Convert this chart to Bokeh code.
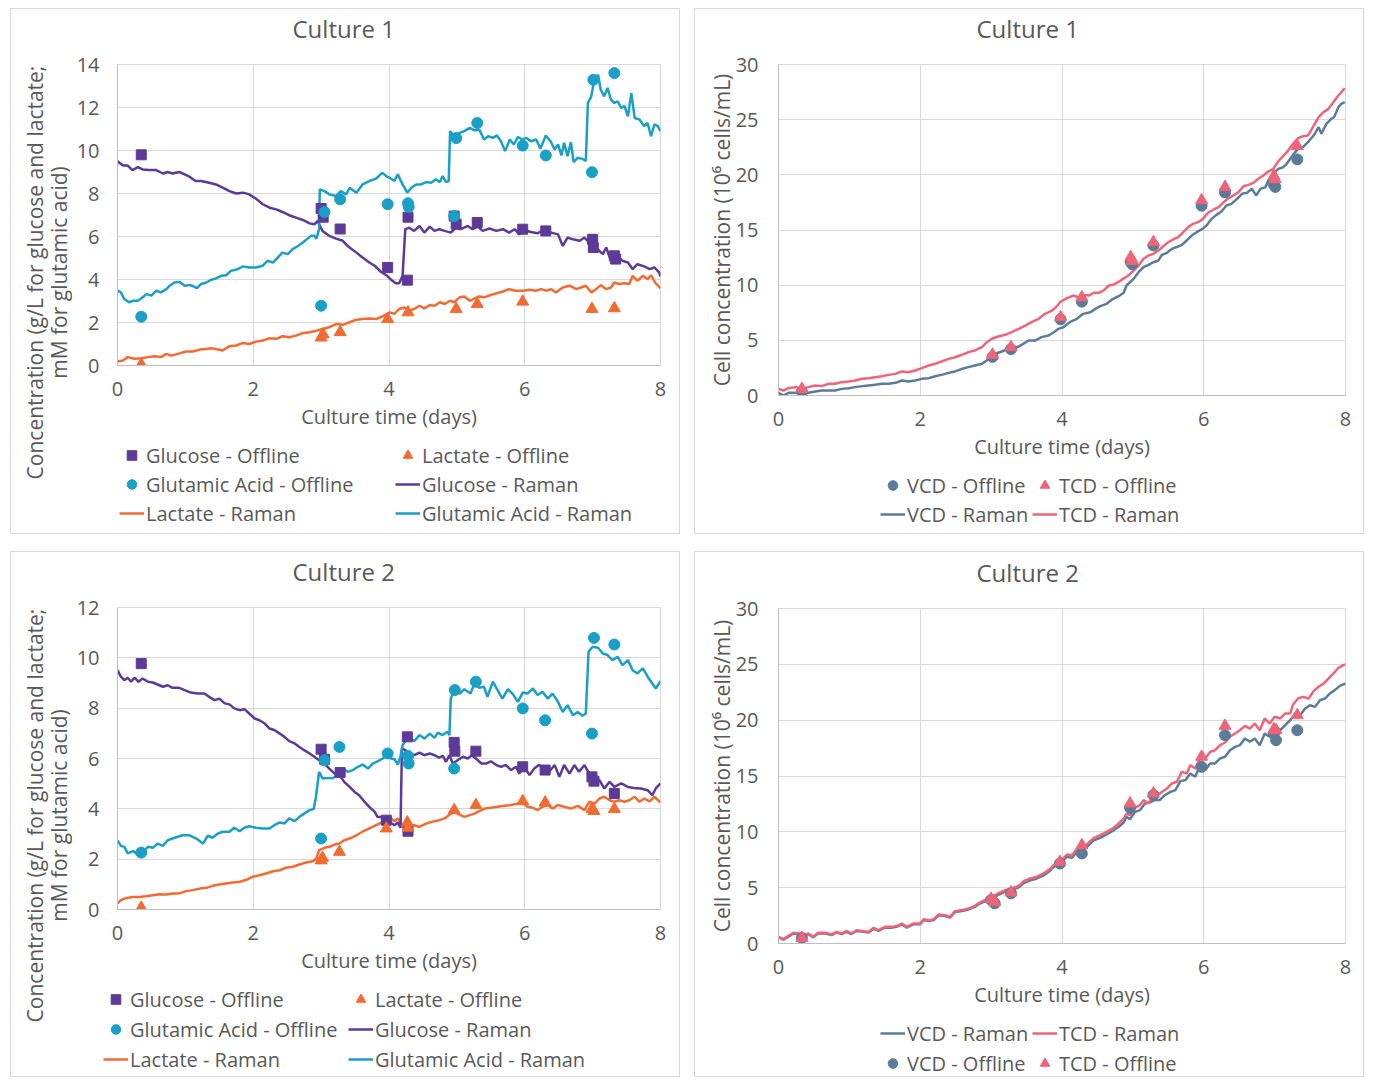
from bokeh.plotting import figure
from bokeh.models import Legend, LegendItem, FixedTicker, Range1d, Title, Plot
from bokeh.layouts import column, row
from bokeh.embed import file_html
from bokeh.resources import INLINE

FONT = "Open Sans"
TXT = "#595959"
GLC = "#5b3a98"
GLU = "#1a9fc6"
LAC = "#f26b33"
VCDC = "#5b7c99"
TCDC = "#ef6479"
BORDER = "1px solid #d9d9d9"

# ---------------- Culture 1 metabolites ----------------
c1_glc_raman = [(0, 9.5), (0.08, 9.3), (0.15, 9.3), (0.22, 9.09), (0.3, 9.23), (0.37, 9.12), (0.47, 9.09), (0.57, 9.09),
    (0.67, 8.93), (0.74, 9.0), (0.81, 8.93), (0.91, 9.0), (0.99, 8.89), (1.06, 8.78), (1.15, 8.58), (1.23, 8.58),
    (1.35, 8.5), (1.45, 8.42), (1.55, 8.27), (1.65, 8.11), (1.75, 8.0), (1.85, 8.04), (1.94, 7.96), (2.04, 7.76),
    (2.14, 7.5), (2.24, 7.34), (2.34, 7.26), (2.43, 7.14), (2.53, 6.99), (2.63, 6.88), (2.73, 6.77), (2.83, 6.61),
    (2.9, 6.57), (2.95, 6.72), (2.97, 6.57), (3.02, 6.26), (3.12, 6.03), (3.22, 5.9), (3.32, 5.8), (3.39, 5.56),
    (3.52, 5.25), (3.61, 5.02), (3.71, 4.79), (3.79, 4.64), (3.88, 4.36), (3.96, 4.2), (4.03, 3.99), (4.1, 3.83),
    (4.15, 3.83), (4.2, 4.17), (4.24, 6.34), (4.3, 6.41), (4.37, 6.26), (4.45, 6.49), (4.52, 6.18), (4.6, 6.46),
    (4.67, 6.26), (4.74, 6.34), (4.82, 6.26), (4.91, 6.18), (4.99, 6.41), (5.06, 6.34), (5.16, 6.49), (5.23, 6.34),
    (5.31, 6.46), (5.38, 6.26), (5.48, 6.37), (5.58, 6.26), (5.68, 6.34), (5.77, 6.18), (5.85, 6.34), (5.92, 6.1),
    (5.99, 6.31), (6.09, 6.21), (6.19, 6.15), (6.29, 6.34), (6.39, 6.18), (6.49, 6.1), (6.56, 5.56), (6.63, 5.95),
    (6.71, 5.87), (6.81, 5.8), (6.88, 5.95), (6.95, 5.72), (7.03, 5.56), (7.1, 5.33), (7.15, 5.18), (7.2, 5.49),
    (7.27, 4.87), (7.37, 5.1), (7.44, 4.87), (7.52, 4.79), (7.59, 4.48), (7.66, 4.71), (7.76, 4.61), (7.84, 4.48),
    (7.91, 4.56), (7.98, 4.33), (8.0, 4.14)]

c1_glu_raman = [(0, 3.48), (0.05, 3.4), (0.1, 3.09), (0.17, 2.94), (0.23, 3.01), (0.3, 3.01), (0.37, 3.17), (0.43, 3.32),
    (0.5, 3.25), (0.57, 3.48), (0.64, 3.4), (0.72, 3.55), (0.77, 3.71), (0.84, 3.86), (0.91, 3.89), (0.99, 3.71),
    (1.08, 3.74), (1.17, 3.6), (1.23, 3.79), (1.31, 3.86), (1.38, 3.99), (1.45, 4.05), (1.53, 4.17), (1.6, 4.2),
    (1.67, 4.4), (1.77, 4.48), (1.85, 4.61), (1.94, 4.56), (2.04, 4.56), (2.14, 4.64), (2.21, 4.87), (2.29, 4.79),
    (2.36, 5.02), (2.43, 5.25), (2.51, 5.18), (2.58, 5.41), (2.66, 5.56), (2.73, 5.72), (2.8, 5.9), (2.85, 6.03),
    (2.9, 6.03), (2.93, 5.9), (2.97, 6.34), (2.98, 8.19), (3.05, 8.11), (3.12, 7.96), (3.22, 7.88), (3.29, 8.11),
    (3.37, 7.96), (3.42, 8.27), (3.52, 8.04), (3.61, 8.42), (3.71, 8.58), (3.81, 8.69), (3.9, 8.96), (3.96, 8.81),
    (4.01, 8.73), (4.08, 8.58), (4.13, 8.89), (4.2, 8.42), (4.27, 8.04), (4.33, 8.27), (4.4, 8.42), (4.47, 8.42),
    (4.55, 8.53), (4.62, 8.5), (4.69, 8.66), (4.75, 8.53), (4.79, 8.81), (4.84, 8.53), (4.88, 8.58), (4.9, 10.9),
    (4.96, 10.66), (5.04, 10.82), (5.11, 10.9), (5.19, 11.05), (5.26, 10.94), (5.33, 10.97), (5.4, 10.51), (5.46, 10.66),
    (5.53, 10.59), (5.59, 10.7), (5.65, 10.43), (5.71, 9.97), (5.78, 10.51), (5.84, 10.28), (5.9, 10.63), (5.96, 10.51),
    (6.02, 10.59), (6.09, 10.43), (6.17, 10.51), (6.23, 10.08), (6.31, 10.7), (6.38, 10.43), (6.44, 10.05), (6.49, 10.28),
    (6.54, 9.77), (6.58, 10.36), (6.63, 9.74), (6.68, 10.39), (6.72, 9.46), (6.78, 9.66), (6.85, 9.61), (6.9, 9.51),
    (6.93, 12.21), (6.98, 12.52), (7.03, 13.37), (7.08, 13.52), (7.12, 12.83), (7.17, 12.52), (7.22, 12.91), (7.27, 12.36),
    (7.32, 12.21), (7.37, 12.29), (7.42, 11.98), (7.47, 12.06), (7.52, 11.59), (7.57, 12.67), (7.62, 11.51), (7.69, 11.44),
    (7.76, 11.13), (7.81, 11.28), (7.86, 10.66), (7.91, 11.21), (7.96, 11.13), (8.0, 10.9)]

c1_lac_raman = [(0, 0.19), (0.08, 0.23), (0.15, 0.39), (0.25, 0.31), (0.35, 0.34), (0.45, 0.39), (0.54, 0.43), (0.64, 0.39),
    (0.72, 0.54), (0.79, 0.46), (0.89, 0.54), (1.01, 0.65), (1.11, 0.65), (1.21, 0.74), (1.31, 0.77), (1.38, 0.8),
    (1.45, 0.77), (1.55, 0.7), (1.65, 0.9), (1.75, 0.93), (1.85, 1.05), (1.94, 1.0), (2.04, 1.11), (2.14, 1.16),
    (2.24, 1.27), (2.34, 1.24), (2.43, 1.36), (2.53, 1.31), (2.63, 1.39), (2.73, 1.51), (2.83, 1.55), (2.93, 1.62),
    (3.02, 1.7), (3.12, 1.78), (3.22, 1.93), (3.32, 1.89), (3.42, 2.01), (3.52, 2.13), (3.61, 2.16), (3.71, 2.19),
    (3.81, 2.16), (3.91, 2.29), (4.01, 2.47), (4.08, 2.4), (4.15, 2.63), (4.23, 2.7), (4.3, 2.55), (4.37, 2.63),
    (4.45, 2.78), (4.52, 2.66), (4.6, 2.81), (4.67, 2.78), (4.75, 2.94), (4.82, 2.86), (4.9, 3.01), (4.96, 2.94),
    (5.04, 3.17), (5.11, 3.21), (5.19, 3.01), (5.26, 3.12), (5.33, 3.21), (5.4, 3.17), (5.5, 3.28), (5.6, 3.37),
    (5.67, 3.43), (5.77, 3.55), (5.87, 3.48), (5.97, 3.48), (6.07, 3.52), (6.17, 3.48), (6.24, 3.55), (6.31, 3.48),
    (6.39, 3.55), (6.46, 3.4), (6.56, 3.63), (6.66, 3.71), (6.76, 3.55), (6.83, 3.63), (6.9, 3.71), (6.98, 3.4),
    (7.05, 3.55), (7.12, 3.74), (7.2, 3.55), (7.27, 3.63), (7.32, 3.86), (7.39, 3.79), (7.47, 3.83), (7.54, 3.79),
    (7.59, 4.17), (7.66, 3.94), (7.74, 4.17), (7.81, 4.02), (7.86, 4.2), (7.92, 3.86), (8.0, 3.59)]

c1_glc_off_t = [0.35, 3.0, 3.03, 3.28, 3.98, 4.27, 4.28, 4.96, 4.99, 5.30, 5.97, 6.31, 7.0, 7.01, 7.32, 7.34]
c1_glc_off = [9.8, 7.3, 6.9, 6.35, 4.56, 3.97, 6.9, 6.95, 6.57, 6.65, 6.34, 6.26, 5.87, 5.49, 5.1, 4.95]
c1_glu_off_t = [0.35, 3.0, 3.05, 3.28, 3.98, 4.28, 4.29, 4.96, 4.99, 5.30, 5.97, 6.31, 6.99, 7.01, 7.32]
c1_glu_off = [2.27, 2.78, 7.14, 7.73, 7.5, 7.55, 7.38, 6.95, 10.58, 11.28, 10.23, 9.77, 8.99, 13.29, 13.6]
c1_lac_off_t = [0.35, 3.0, 3.03, 3.28, 3.98, 4.28, 4.99, 5.30, 5.97, 6.99, 7.32]
c1_lac_off = [0.05, 1.3, 1.45, 1.55, 2.16, 2.47, 2.63, 2.86, 2.97, 2.63, 2.66]

# ---------------- Culture 2 metabolites ----------------
c2_glc_raman = [(0, 9.51), (0.05, 9.25), (0.1, 9.11), (0.15, 9.21), (0.2, 9.05), (0.25, 9.21), (0.31, 9.05), (0.37, 9.18),
    (0.45, 9.05), (0.52, 9.02), (0.59, 8.94), (0.67, 8.85), (0.74, 8.91), (0.81, 8.81), (0.91, 8.81), (0.99, 8.72),
    (1.08, 8.62), (1.18, 8.58), (1.28, 8.58), (1.35, 8.45), (1.43, 8.32), (1.5, 8.38), (1.58, 8.19), (1.65, 8.15),
    (1.72, 7.99), (1.8, 7.92), (1.87, 7.96), (1.94, 7.79), (2.02, 7.59), (2.09, 7.52), (2.17, 7.39), (2.24, 7.19),
    (2.31, 7.13), (2.39, 6.99), (2.46, 6.86), (2.53, 6.69), (2.61, 6.6), (2.68, 6.46), (2.75, 6.33), (2.83, 6.2),
    (2.9, 6.07), (2.97, 5.93), (3.05, 5.8), (3.12, 5.6), (3.2, 5.4), (3.27, 5.34), (3.34, 5.07), (3.42, 4.87),
    (3.49, 4.68), (3.56, 4.54), (3.64, 4.28), (3.71, 4.08), (3.79, 3.88), (3.83, 3.68), (3.91, 3.68), (3.98, 3.5),
    (4.01, 3.48), (4.08, 3.35), (4.13, 3.46), (4.17, 3.25), (4.19, 6.4), (4.24, 6.33), (4.3, 6.2), (4.37, 6.13),
    (4.45, 6.23), (4.52, 6.13), (4.6, 6.2), (4.67, 6.13), (4.74, 6.03), (4.79, 6.11), (4.84, 5.87), (4.89, 6.13),
    (4.94, 5.8), (5.01, 5.93), (5.09, 6.07), (5.16, 6.0), (5.22, 6.13), (5.28, 6.0), (5.36, 5.8), (5.43, 5.8),
    (5.5, 5.89), (5.58, 5.74), (5.65, 5.67), (5.72, 5.74), (5.8, 5.54), (5.87, 5.67), (5.92, 5.4), (5.99, 5.67),
    (6.07, 5.34), (6.14, 5.6), (6.21, 5.74), (6.29, 5.6), (6.36, 5.47), (6.44, 5.74), (6.51, 5.27), (6.58, 5.74),
    (6.66, 5.4), (6.73, 5.74), (6.8, 5.47), (6.88, 5.74), (6.95, 5.4), (7.03, 5.21), (7.1, 5.14), (7.17, 4.81),
    (7.25, 5.07), (7.32, 4.87), (7.42, 5.01), (7.52, 4.87), (7.61, 4.83), (7.71, 4.81), (7.81, 4.74), (7.88, 4.54),
    (7.93, 4.81), (8.0, 5.01)]

c2_glu_raman = [(0, 2.75), (0.05, 2.53), (0.1, 2.49), (0.15, 2.23), (0.23, 2.32), (0.3, 2.19), (0.37, 2.29), (0.45, 2.49),
    (0.52, 2.45), (0.59, 2.62), (0.67, 2.53), (0.74, 2.75), (0.81, 2.82), (0.89, 2.89), (0.96, 2.95), (1.06, 2.95),
    (1.16, 2.82), (1.26, 2.62), (1.33, 2.93), (1.4, 2.85), (1.48, 3.02), (1.55, 3.09), (1.65, 3.09), (1.72, 3.25),
    (1.8, 3.11), (1.87, 3.25), (1.94, 3.31), (2.04, 3.25), (2.14, 3.22), (2.24, 3.22), (2.31, 3.35), (2.39, 3.46),
    (2.46, 3.42), (2.53, 3.62), (2.61, 3.51), (2.68, 3.68), (2.75, 3.81), (2.83, 3.95), (2.89, 3.99), (2.92, 4.41),
    (2.97, 5.47), (3.02, 5.21), (3.1, 5.23), (3.17, 5.21), (3.24, 5.36), (3.32, 5.6), (3.39, 5.47), (3.47, 5.54),
    (3.54, 5.67), (3.61, 5.76), (3.69, 5.6), (3.76, 5.8), (3.83, 5.89), (3.91, 6.0), (3.98, 6.2), (4.03, 6.0),
    (4.08, 5.97), (4.13, 5.76), (4.17, 6.07), (4.2, 6.53), (4.25, 6.73), (4.3, 6.82), (4.37, 6.69), (4.45, 6.93),
    (4.52, 6.79), (4.6, 6.99), (4.67, 6.82), (4.72, 7.03), (4.79, 6.93), (4.86, 7.06), (4.89, 6.93), (4.91, 8.38),
    (4.96, 8.72), (5.04, 8.58), (5.11, 8.75), (5.2, 8.58), (5.26, 8.98), (5.33, 8.81), (5.4, 8.85), (5.45, 8.45),
    (5.53, 9.05), (5.6, 8.72), (5.67, 8.38), (5.75, 8.75), (5.82, 8.58), (5.9, 8.25), (5.97, 8.62), (6.04, 8.58),
    (6.12, 8.78), (6.19, 8.52), (6.26, 8.65), (6.34, 8.38), (6.41, 8.58), (6.49, 8.25), (6.56, 7.85), (6.63, 8.12),
    (6.71, 7.72), (6.78, 7.85), (6.85, 7.7), (6.9, 7.79), (6.94, 10.24), (7.0, 10.44), (7.08, 10.4), (7.15, 10.17),
    (7.22, 10.11), (7.29, 9.91), (7.37, 10.04), (7.44, 9.71), (7.52, 9.91), (7.59, 9.51), (7.66, 9.38), (7.74, 9.58),
    (7.81, 9.25), (7.88, 8.98), (7.93, 8.78), (8.0, 9.07)]

c2_lac_raman = [(0, 0.24), (0.05, 0.37), (0.13, 0.46), (0.23, 0.5), (0.32, 0.5), (0.42, 0.53), (0.52, 0.57), (0.62, 0.61),
    (0.72, 0.6), (0.81, 0.64), (0.91, 0.64), (1.01, 0.73), (1.11, 0.77), (1.21, 0.83), (1.31, 0.86), (1.4, 0.94),
    (1.5, 0.99), (1.6, 1.03), (1.7, 1.07), (1.8, 1.1), (1.89, 1.17), (1.99, 1.3), (2.09, 1.36), (2.19, 1.43),
    (2.29, 1.52), (2.39, 1.56), (2.48, 1.66), (2.58, 1.7), (2.68, 1.79), (2.78, 1.87), (2.88, 1.92), (2.93, 2.03),
    (2.97, 2.36), (3.05, 2.45), (3.12, 2.49), (3.2, 2.58), (3.27, 2.62), (3.34, 2.75), (3.42, 2.82), (3.52, 2.95),
    (3.61, 3.09), (3.71, 3.22), (3.81, 3.35), (3.91, 3.48), (3.98, 3.65), (4.03, 3.62), (4.08, 3.51), (4.13, 3.62),
    (4.18, 3.42), (4.23, 3.22), (4.3, 3.25), (4.37, 3.35), (4.45, 3.28), (4.52, 3.38), (4.6, 3.46), (4.67, 3.51),
    (4.74, 3.55), (4.82, 3.62), (4.89, 3.77), (4.96, 3.88), (5.04, 3.77), (5.11, 3.68), (5.19, 3.75), (5.26, 3.81),
    (5.33, 3.91), (5.41, 4.01), (5.5, 4.04), (5.6, 4.08), (5.7, 4.12), (5.8, 4.15), (5.9, 4.21), (5.97, 4.28),
    (6.04, 4.08), (6.12, 4.04), (6.19, 3.95), (6.26, 4.08), (6.34, 4.15), (6.41, 4.01), (6.49, 4.15), (6.58, 4.08),
    (6.68, 4.01), (6.78, 4.12), (6.88, 3.95), (6.95, 4.28), (7.03, 4.21), (7.1, 4.41), (7.17, 4.48), (7.25, 4.34),
    (7.32, 4.28), (7.39, 4.34), (7.47, 4.28), (7.54, 4.34), (7.62, 4.48), (7.69, 4.28), (7.76, 4.41), (7.84, 4.3),
    (7.91, 4.48), (8.0, 4.25)]

c2_glc_off_t = [0.35, 3.0, 3.05, 3.28, 3.96, 4.27, 4.28, 4.96, 4.97, 5.28, 5.97, 6.3, 6.99, 7.02, 7.32]
c2_glc_off = [9.77, 6.37, 5.97, 5.44, 3.55, 6.86, 3.11, 6.64, 6.29, 6.29, 5.67, 5.54, 5.27, 5.1, 4.61]
c2_glu_off_t = [0.35, 3.0, 3.05, 3.27, 3.98, 4.28, 4.29, 4.96, 4.97, 5.28, 5.97, 6.3, 6.99, 7.02, 7.32]
c2_glu_off = [2.26, 2.82, 5.93, 6.46, 6.2, 6.1, 5.8, 5.6, 8.72, 9.05, 7.99, 7.52, 6.99, 10.79, 10.53]
c2_lac_off_t = [0.35, 3.0, 3.02, 3.27, 3.96, 4.27, 4.28, 4.96, 5.28, 5.97, 6.3, 6.99, 7.02, 7.32]
c2_lac_off = [0.07, 1.95, 2.05, 2.29, 3.22, 3.46, 3.25, 3.95, 4.15, 4.3, 4.25, 3.99, 3.91, 3.99]

# ---------------- Culture 1 cells ----------------
c1_tcd_raman = [(0, 0.6), (0.07, 0.45), (0.14, 0.66), (0.24, 0.76), (0.33, 0.66), (0.42, 0.76), (0.52, 0.91), (0.61, 0.85),
    (0.71, 1.06), (0.8, 1.06), (0.89, 1.21), (0.99, 1.27), (1.08, 1.36), (1.18, 1.51), (1.27, 1.57), (1.36, 1.66),
    (1.46, 1.75), (1.55, 1.87), (1.65, 1.96), (1.74, 2.18), (1.83, 2.11), (1.93, 2.27), (2.02, 2.48), (2.12, 2.72),
    (2.21, 2.87), (2.3, 3.08), (2.4, 3.32), (2.49, 3.47), (2.59, 3.69), (2.68, 3.93), (2.77, 4.08), (2.87, 4.38),
    (2.94, 4.83), (3.01, 5.14), (3.1, 5.35), (3.2, 5.5), (3.29, 5.74), (3.39, 6.04), (3.48, 6.34), (3.57, 6.65),
    (3.67, 6.95), (3.76, 7.4), (3.86, 7.7), (3.93, 8.1), (3.97, 8.46), (4.07, 8.82), (4.16, 9.06), (4.23, 8.91),
    (4.3, 9.12), (4.38, 9.06), (4.45, 9.31), (4.52, 9.31), (4.59, 9.52), (4.66, 9.97), (4.72, 10.03), (4.79, 10.27),
    (4.86, 10.57), (4.94, 10.88), (5.01, 11.33), (5.08, 11.78), (5.15, 12.39), (5.22, 12.69), (5.29, 12.84), (5.36, 13.14),
    (5.43, 13.53), (5.5, 13.9), (5.57, 14.14), (5.64, 14.35), (5.71, 14.8), (5.78, 15.26), (5.85, 15.56), (5.92, 15.71),
    (5.99, 16.01), (6.06, 16.56), (6.14, 16.86), (6.21, 17.07), (6.28, 17.52), (6.35, 17.89), (6.42, 18.13), (6.49, 18.43),
    (6.56, 18.97), (6.63, 19.09), (6.7, 19.27), (6.77, 19.64), (6.84, 19.94), (6.91, 20.3), (6.98, 20.54), (7.05, 21.21),
    (7.12, 21.69), (7.19, 22.2), (7.26, 22.81), (7.33, 23.32), (7.4, 23.5), (7.47, 23.56), (7.54, 24.32), (7.62, 25.23),
    (7.69, 25.68), (7.76, 25.98), (7.83, 26.59), (7.9, 27.19), (7.94, 27.49), (7.99, 27.85)]

c1_vcd_raman = [(0, 0.24), (0.07, 0.0), (0.14, 0.24), (0.24, 0.24), (0.33, 0.3), (0.42, 0.24), (0.52, 0.36), (0.61, 0.45),
    (0.71, 0.45), (0.8, 0.45), (0.89, 0.6), (0.99, 0.66), (1.08, 0.76), (1.18, 0.85), (1.27, 0.91), (1.36, 0.97),
    (1.46, 1.06), (1.55, 1.06), (1.65, 1.15), (1.74, 1.36), (1.83, 1.27), (1.93, 1.36), (2.02, 1.51), (2.12, 1.57),
    (2.21, 1.75), (2.3, 1.87), (2.4, 2.05), (2.49, 2.18), (2.59, 2.42), (2.68, 2.57), (2.77, 2.72), (2.87, 2.87),
    (2.94, 3.17), (2.99, 3.63), (3.06, 3.78), (3.15, 3.99), (3.24, 4.23), (3.34, 4.29), (3.43, 4.59), (3.53, 4.98),
    (3.62, 4.98), (3.71, 5.29), (3.81, 5.44), (3.9, 5.8), (3.95, 6.04), (4.02, 6.19), (4.11, 6.65), (4.21, 6.95),
    (4.3, 7.4), (4.4, 7.55), (4.47, 7.85), (4.54, 8.1), (4.63, 8.31), (4.72, 8.76), (4.8, 9.0), (4.87, 9.31),
    (4.91, 9.97), (5.01, 10.57), (5.08, 11.18), (5.15, 11.63), (5.22, 11.84), (5.29, 12.08), (5.36, 12.24), (5.41, 12.75),
    (5.48, 12.93), (5.55, 13.29), (5.61, 13.44), (5.68, 13.6), (5.76, 14.05), (5.83, 14.5), (5.9, 14.8), (5.97, 15.05),
    (6.04, 15.41), (6.11, 16.01), (6.18, 16.37), (6.25, 16.68), (6.32, 17.22), (6.39, 17.37), (6.47, 17.82), (6.54, 18.28),
    (6.61, 18.37), (6.68, 18.73), (6.74, 18.13), (6.8, 18.73), (6.87, 18.88), (6.91, 19.49), (6.98, 20.09), (7.05, 20.54),
    (7.12, 20.69), (7.17, 21.0), (7.22, 21.45), (7.26, 21.81), (7.33, 22.36), (7.4, 22.51), (7.47, 22.96), (7.55, 23.56),
    (7.62, 24.32), (7.66, 23.72), (7.73, 24.62), (7.8, 25.08), (7.84, 25.23), (7.9, 26.13), (7.94, 26.43), (7.99, 26.59)]

c1_cell_off_t = [0.33, 3.02, 3.28, 3.98, 4.28, 4.97, 4.99, 5.29, 5.97, 6.3, 6.99, 7.01, 7.32]
c1_tcd_off = [0.6, 3.7, 4.38, 7.1, 8.9, 12.54, 12.2, 13.9, 17.7, 18.9, 19.9, 19.6, 22.6]
c1_vcd_off = [0.35, 3.5, 4.2, 6.9, 8.5, 12.1, 11.9, 13.6, 17.2, 18.4, 19.1, 18.9, 21.4]

# ---------------- Culture 2 cells ----------------
c2_tcd_raman = [(0, 0.6), (0.07, 0.39), (0.14, 0.69), (0.21, 0.96), (0.28, 0.9), (0.35, 0.69), (0.42, 0.9), (0.49, 0.6),
    (0.56, 0.96), (0.66, 0.96), (0.75, 0.81), (0.82, 1.04), (0.89, 0.9), (0.96, 1.1), (1.03, 0.9), (1.1, 1.19),
    (1.2, 1.1), (1.27, 1.04), (1.34, 1.4), (1.41, 1.19), (1.5, 1.49), (1.6, 1.49), (1.67, 1.58), (1.74, 1.79),
    (1.81, 1.49), (1.9, 1.79), (2.0, 1.79), (2.05, 2.18), (2.12, 2.09), (2.19, 2.18), (2.26, 2.6), (2.35, 2.54),
    (2.42, 2.39), (2.49, 2.9), (2.59, 2.99), (2.68, 3.13), (2.77, 3.37), (2.84, 3.67), (2.91, 3.88), (3.01, 4.18),
    (3.1, 4.48), (3.2, 4.78), (3.29, 4.93), (3.39, 5.16), (3.46, 5.58), (3.55, 5.82), (3.64, 5.97), (3.74, 6.27),
    (3.83, 6.66), (3.88, 7.01), (3.97, 7.31), (4.07, 7.97), (4.14, 7.91), (4.21, 8.45), (4.28, 8.66), (4.35, 8.87),
    (4.45, 9.46), (4.54, 9.7), (4.63, 10.0), (4.73, 10.36), (4.8, 10.75), (4.87, 11.19), (4.91, 11.64), (4.96, 11.49),
    (5.03, 12.15), (5.1, 12.39), (5.15, 12.84), (5.22, 12.54), (5.29, 13.28), (5.38, 13.43), (5.48, 13.88), (5.55, 14.33),
    (5.62, 14.48), (5.69, 15.37), (5.76, 15.22), (5.81, 15.97), (5.88, 15.67), (5.95, 16.63), (6.02, 16.57), (6.09, 17.16),
    (6.16, 17.31), (6.23, 17.76), (6.3, 18.0), (6.37, 18.51), (6.44, 18.81), (6.51, 19.1), (6.58, 19.49), (6.65, 19.25),
    (6.72, 19.7), (6.79, 19.1), (6.86, 20.15), (6.93, 19.7), (7.0, 20.3), (7.08, 20.15), (7.15, 20.6), (7.22, 20.6),
    (7.26, 21.4), (7.33, 21.94), (7.4, 22.09), (7.48, 21.94), (7.55, 22.6), (7.62, 22.99), (7.69, 23.28), (7.76, 23.73),
    (7.83, 24.18), (7.9, 24.69), (7.97, 24.93), (8.0, 24.99)]

c2_vcd_raman = [(0, 0.55), (0.07, 0.35), (0.14, 0.62), (0.21, 0.9), (0.28, 0.85), (0.35, 0.6), (0.42, 0.85), (0.49, 0.55),
    (0.56, 0.9), (0.66, 0.9), (0.75, 0.75), (0.82, 1.0), (0.89, 0.85), (0.96, 1.05), (1.03, 0.85), (1.1, 1.12),
    (1.2, 1.05), (1.27, 0.98), (1.34, 1.33), (1.41, 1.12), (1.5, 1.42), (1.6, 1.42), (1.67, 1.5), (1.74, 1.72),
    (1.81, 1.42), (1.9, 1.72), (2.0, 1.72), (2.05, 2.1), (2.12, 2.02), (2.19, 2.1), (2.26, 2.52), (2.35, 2.46),
    (2.42, 2.32), (2.49, 2.82), (2.59, 2.9), (2.68, 3.05), (2.77, 3.28), (2.84, 3.58), (2.91, 3.78), (3.01, 4.05),
    (3.1, 4.35), (3.2, 4.65), (3.29, 4.8), (3.39, 5.02), (3.46, 5.42), (3.55, 5.66), (3.64, 5.8), (3.74, 6.1),
    (3.83, 6.5), (3.88, 6.87), (3.97, 7.16), (4.07, 7.76), (4.14, 7.67), (4.21, 8.21), (4.28, 8.36), (4.35, 8.66),
    (4.45, 9.25), (4.54, 9.46), (4.63, 9.76), (4.73, 10.15), (4.8, 10.45), (4.87, 10.84), (4.91, 11.34), (4.96, 11.13),
    (5.03, 11.79), (5.1, 11.94), (5.17, 12.54), (5.24, 12.63), (5.31, 12.84), (5.38, 12.84), (5.45, 13.28), (5.53, 13.58),
    (5.6, 13.73), (5.67, 14.54), (5.74, 14.63), (5.81, 15.22), (5.88, 14.93), (5.95, 15.97), (6.02, 15.52), (6.09, 16.12),
    (6.16, 16.12), (6.23, 16.57), (6.3, 16.72), (6.37, 17.31), (6.44, 17.61), (6.51, 17.76), (6.58, 18.36), (6.65, 18.06),
    (6.72, 18.36), (6.79, 17.76), (6.86, 18.81), (6.93, 18.51), (7.0, 19.55), (7.08, 19.1), (7.15, 19.55), (7.22, 20.0),
    (7.29, 20.6), (7.36, 20.45), (7.43, 21.04), (7.5, 21.34), (7.57, 21.19), (7.64, 21.79), (7.71, 21.94), (7.78, 22.39),
    (7.85, 22.69), (7.92, 23.07), (8.0, 23.28)]

c2_cell_off_t = [0.33, 3.0, 3.05, 3.28, 3.97, 4.28, 4.96, 5.29, 5.97, 6.3, 6.99, 7.02, 7.32]
c2_tcd_off = [0.5, 4.0, 3.7, 4.57, 7.31, 8.8, 12.54, 13.43, 16.72, 19.49, 19.19, 19.1, 20.45]
c2_vcd_off = [0.5, 3.9, 3.6, 4.5, 7.16, 8.06, 12.15, 13.3, 15.82, 18.66, 18.8, 18.21, 19.1]

x_ticks = [0, 2, 4, 6, 8]
met_ylabel = "Concentration (g/L for glucose and lactate;\nmM for glutamic acid)"
cell_ylabel = "Cell concentration (10\u2076 cells/mL)"
x_label = "Culture time (days)"

W = 670
PH = 526          # panel content height
STRIP = 62        # width of the y-title strip of the concentration panels
HAS_FA = "frame_align" in Plot.properties()
FA = {"frame_align": False} if HAS_FA else {}


def xs(pairs):
    return [a for a, b in pairs]


def ys(pairs):
    return [b for a, b in pairs]


def text_style(size):
    return dict(text_font=FONT, text_font_size=size, text_font_style="normal", text_color=TXT)


def base(title, w, h, ymax, ystep, lb, tb, bb, title_off, styles):
    p = figure(width=w, height=h, x_range=Range1d(0, 8), y_range=Range1d(0, ymax),
               output_backend="svg", toolbar_location=None,
               min_border_left=lb, min_border_right=20, min_border_top=tb, min_border_bottom=bb,
               background_fill_color="white", border_fill_color="white", styles=styles, **FA)
    # spacer line nearest the frame, then the visible title above it
    p.add_layout(Title(text=" ", standoff=0, **text_style("13px")), "above")
    p.add_layout(Title(text=title, align="left", offset=title_off, standoff=0, **text_style("24px")), "above")
    p.xaxis.ticker = FixedTicker(ticks=x_ticks)
    p.yaxis.ticker = FixedTicker(ticks=list(range(0, ymax + 1, ystep)))
    p.xaxis.axis_label = x_label
    for ax in (p.xaxis[0], p.yaxis[0]):
        ax.major_tick_line_color = None
        ax.minor_tick_line_color = None
        ax.axis_line_color = "#bfbfbf"
        ax.major_label_text_font = FONT
        ax.major_label_text_font_size = "20px"
        ax.major_label_text_color = TXT
        ax.axis_label_text_font = FONT
        ax.axis_label_text_font_size = "20px"
        ax.axis_label_text_font_style = "normal"
        ax.axis_label_text_color = TXT
    p.xaxis.major_label_standoff = 10
    p.xaxis.axis_label_standoff = 4
    p.grid.grid_line_color = "#d9d9d9"
    p.grid.grid_line_width = 1
    p.outline_line_color = "#d9d9d9"
    return p


def legend_fig(w, h, columns, y, spacing, styles):
    q = figure(width=w, height=h, x_range=Range1d(100, 101), y_range=Range1d(100, 101),
               output_backend="svg", toolbar_location=None, min_border=0,
               x_axis_location=None, y_axis_location=None,
               background_fill_color="white", border_fill_color="white", styles=styles, **FA)
    q.grid.visible = False
    q.outline_line_color = None
    for x, entries in columns:
        items = []
        for label, kind, color, tx, ty in entries:
            if kind == "line":
                r = q.line(tx, ty, line_color=color, line_width=2.5)
            else:
                r = q.scatter(tx, ty, marker=kind, size=10, fill_color=color, line_color=color)
            items.append(LegendItem(label=label, renderers=[r]))
        lg = Legend(items=items, location=(x, y), orientation="vertical",
                    glyph_width=25, glyph_height=24, label_height=24,
                    label_standoff=2, spacing=spacing, padding=0, margin=0,
                    border_line_color=None, background_fill_alpha=0, inactive_fill_alpha=0,
                    label_text_font=FONT, label_text_font_size="20px", label_text_color=TXT)
        q.add_layout(lg, "center")
    return q


def ytitle_strip():
    # narrow figure whose only content is the two-line y-axis title, centred on the whole panel height
    s = figure(width=STRIP, height=PH, x_range=Range1d(0, 1), y_range=Range1d(0, 1),
               output_backend="svg", toolbar_location=None,
               min_border_left=STRIP - 1, min_border_right=0, min_border_top=0, min_border_bottom=0,
               x_axis_location=None, background_fill_color="white", border_fill_color="white",
               styles={"border": BORDER, "border-right": "none"}, **FA)
    s.grid.visible = False
    s.outline_line_color = None
    ax = s.yaxis[0]
    ax.ticker = FixedTicker(ticks=[])
    ax.axis_line_color = None
    ax.major_tick_line_color = None
    ax.minor_tick_line_color = None
    ax.major_tick_out = 0
    ax.major_label_standoff = 0
    ax.axis_label = met_ylabel
    ax.axis_label_standoff = 0
    ax.axis_label_text_font = FONT
    ax.axis_label_text_font_size = "21px"
    ax.axis_label_text_font_style = "normal"
    ax.axis_label_text_color = TXT
    ax.axis_label_text_line_height = 0.85
    return s


def metab(title, ymax, h, hl, tb, bb, glc_r, glu_r, lac_r, glc_t, glc_v, glu_t, glu_v, lac_t, lac_v,
          lx1, lx2, ly, sp):
    w = W - STRIP
    p = base(title, w, h, ymax, 2, 118 - 11 - STRIP, tb, bb, 175,
             {"border": BORDER, "border-left": "none", "border-bottom": "none"})
    p.yaxis.major_label_standoff = 12
    p.line(xs(lac_r), ys(lac_r), line_color=LAC, line_width=2.5)
    p.line(xs(glc_r), ys(glc_r), line_color=GLC, line_width=2.5)
    p.line(xs(glu_r), ys(glu_r), line_color=GLU, line_width=2.5)
    p.scatter(glc_t, glc_v, marker="square", size=10, fill_color=GLC, line_color=GLC)
    p.scatter(lac_t, lac_v, marker="triangle", size=12, fill_color=LAC, line_color=LAC)
    p.scatter(glu_t, glu_v, marker="circle", size=11, fill_color=GLU, line_color=GLU)
    q = legend_fig(w, hl, [
        (lx1, [("Glucose - Offline", "square", GLC, glc_t, glc_v),
               ("Glutamic Acid - Offline", "circle", GLU, glu_t, glu_v),
               ("Lactate - Raman", "line", LAC, xs(lac_r), ys(lac_r))]),
        (lx2, [("Lactate - Offline", "triangle", LAC, lac_t, lac_v),
               ("Glucose - Raman", "line", GLC, xs(glc_r), ys(glc_r)),
               ("Glutamic Acid - Raman", "line", GLU, xs(glu_r), ys(glu_r))])], ly, sp,
        {"border": BORDER, "border-left": "none", "border-top": "none"})
    return row(ytitle_strip(), column(p, q, spacing=0), spacing=0)


def cells(title, h, hl, tb, bb, vcd_r, tcd_r, t_off, vcd_off, tcd_off, lx1, lx2, ly, sp, raman_first):
    p = base(title, W, h, 30, 5, 83, tb, bb, 198, {"border": BORDER, "border-bottom": "none"})
    p.yaxis.axis_label = cell_ylabel
    p.yaxis.axis_label_text_font_size = "21px"
    p.yaxis.major_label_standoff = 14
    p.yaxis.axis_label_standoff = -3
    p.line(xs(vcd_r), ys(vcd_r), line_color=VCDC, line_width=2.5)
    p.line(xs(tcd_r), ys(tcd_r), line_color=TCDC, line_width=2.5)
    p.scatter(t_off, vcd_off, marker="circle", size=11, fill_color=VCDC, line_color=VCDC)
    p.scatter(t_off, tcd_off, marker="triangle", size=12, fill_color=TCDC, line_color=TCDC)
    v_off = ("VCD - Offline", "circle", VCDC, t_off, vcd_off)
    t_of = ("TCD - Offline", "triangle", TCDC, t_off, tcd_off)
    v_ram = ("VCD - Raman", "line", VCDC, xs(vcd_r), ys(vcd_r))
    t_ram = ("TCD - Raman", "line", TCDC, xs(tcd_r), ys(tcd_r))
    if raman_first:
        cols = [(lx1, [v_ram, v_off]), (lx2, [t_ram, t_of])]
    else:
        cols = [(lx1, [v_off, v_ram]), (lx2, [t_of, t_ram])]
    q = legend_fig(W, hl, cols, ly, sp, {"border": BORDER, "border-top": "none"})
    return column(p, q, spacing=0)


x0 = 11 + STRIP
if HAS_FA:
    L_TL, L_BL, L_R = (120 - x0, 396 - x0), (104 - x0, 349 - x0), (185, 337)
else:
    L_TL, L_BL, L_R = (2, 278), (0, 231), (102, 254)

tl = metab("Culture 1", 14, 430, 96, 54, 74, c1_glc_raman, c1_glu_raman, c1_lac_raman,
           c1_glc_off_t, c1_glc_off, c1_glu_off_t, c1_glu_off, c1_lac_off_t, c1_lac_off,
           L_TL[0], L_TL[1], 7.5, 2)
bl = metab("Culture 2", 12, 431, 95, 55, 74, c2_glc_raman, c2_glu_raman, c2_lac_raman,
           c2_glc_off_t, c2_glc_off, c2_glu_off_t, c2_glu_off, c2_lac_off_t, c2_lac_off,
           L_BL[0], L_BL[1], 4.5, 3)
tr = cells("Culture 1", 458, 68, 55, 72, c1_vcd_raman, c1_tcd_raman, c1_cell_off_t, c1_vcd_off, c1_tcd_off,
           L_R[0], L_R[1], 6.5, 2, False)
br = cells("Culture 2", 465, 61, 56, 74, c2_vcd_raman, c2_tcd_raman, c2_cell_off_t, c2_vcd_off, c2_tcd_off,
           L_R[0], L_R[1], 0.5, 3, True)

layout = column(row(tl, tr, spacing=14), row(bl, br, spacing=14), spacing=17, margin=(8, 0, 0, 10))

open("out.html", "w").write(file_html(layout, INLINE))
